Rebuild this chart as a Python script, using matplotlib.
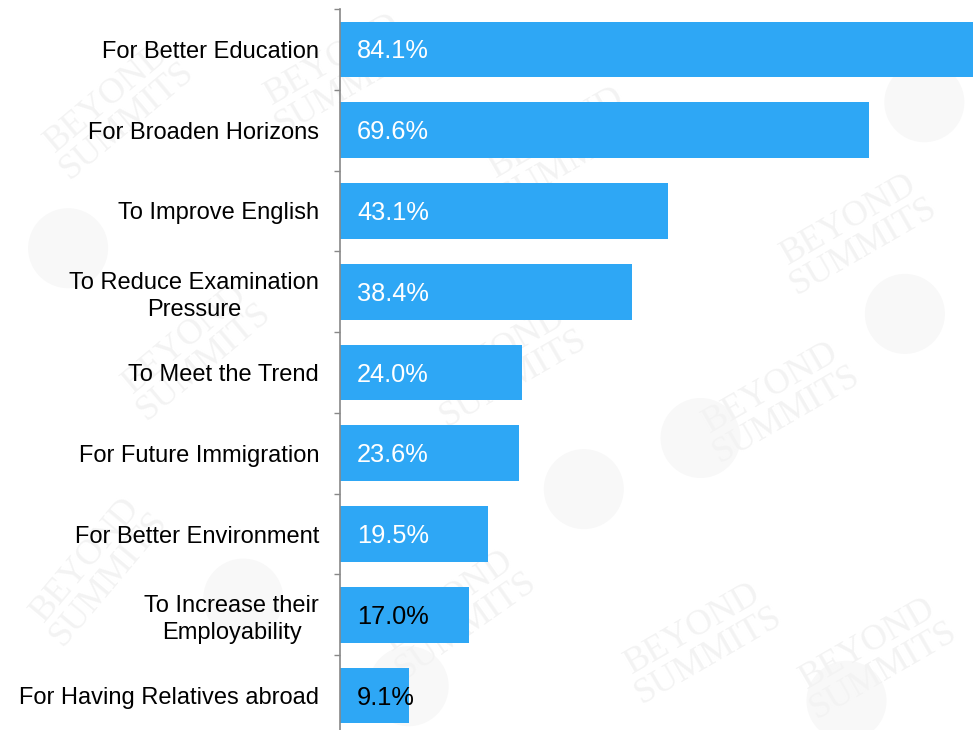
import matplotlib
matplotlib.use("Agg")
import matplotlib.pyplot as plt
from matplotlib.patches import Circle

plt.rcParams["font.family"] = ["Liberation Sans", "DejaVu Sans"]

CATEGORIES = [
    "For Better Education",
    "For Broaden Horizons",
    "To Improve English",
    "To Reduce Examination\nPressure",
    "To Meet the Trend",
    "For Future Immigration",
    "For Better Environment",
    "To Increase their\nEmployability",
    "For Having Relatives abroad",
]
SHARES = [84.1, 69.6, 43.1, 38.4, 24.0, 23.6, 19.5, 17.0, 9.1]

BAR_COLOR = "#2EA7F5"
WM_COLOR = "#F3F3F3"

W, H = 973, 730
fig = plt.figure(figsize=(W / 100, H / 100), dpi=100)
fig.patch.set_facecolor("white")

# faint "BEYOND SUMMITS" watermark tiles behind the chart
wm_spots = [(0.12, 0.85, 40), (0.58, 0.80, 30), (0.88, 0.68, 30), (0.20, 0.52, 40),
            (0.52, 0.50, 30), (0.80, 0.45, 30), (0.10, 0.22, 50), (0.47, 0.16, 35),
            (0.72, 0.12, 30), (0.90, 0.10, 30), (0.35, 0.90, 30)]
for x, y, rot in wm_spots:
    fig.text(x, y, "BEYOND\nSUMMITS", color=WM_COLOR, fontsize=26,
             family="Liberation Serif", rotation=rot, ha="center", va="center",
             linespacing=0.9, zorder=-2)
for cx, cy in [(0.95, 0.86), (0.07, 0.66), (0.72, 0.40), (0.93, 0.57),
               (0.42, 0.06), (0.25, 0.18), (0.87, 0.04), (0.60, 0.33)]:
    fig.patches.append(Circle((cx * W, cy * H), 40, transform=None,
                              facecolor="#F8F8F8", edgecolor="none", zorder=-3))

ax = fig.add_axes([340 / W, -6 / H, (W - 340) / W, 727 / H])
ax.set_facecolor("none")

ypos = list(range(len(CATEGORIES)))
ax.barh(ypos, SHARES, height=0.69, color=BAR_COLOR, zorder=2)

for y, v in zip(ypos, SHARES):
    ax.annotate(f"{v:.1f}%", (0, y), xytext=(17, -2), textcoords="offset pixels",
                ha="left", va="center", fontsize=18.3,
                color="white" if v > 18 else "black", zorder=3)

ax.set_xlim(0, 83.3)
ax.set_ylim(len(CATEGORIES) - 0.5, -0.5)

ax.set_yticks(ypos)
ax.set_yticklabels(CATEGORIES, fontsize=17)
for lbl in ax.get_yticklabels():
    lbl.set_multialignment("center")
    lbl.set_linespacing(1.3)
ax.set_yticks([i - 0.5 for i in range(len(CATEGORIES) + 1)], minor=True)
ax.tick_params(axis="y", which="major", length=0, pad=15)
ax.tick_params(axis="y", which="minor", length=4, width=1, color="#888888",
               direction="out")
ax.set_xticks([])

for side in ["top", "right", "bottom"]:
    ax.spines[side].set_visible(False)
ax.spines["left"].set_color("#888888")
ax.spines["left"].set_linewidth(1.2)

fig.savefig("out.png", dpi=100)
